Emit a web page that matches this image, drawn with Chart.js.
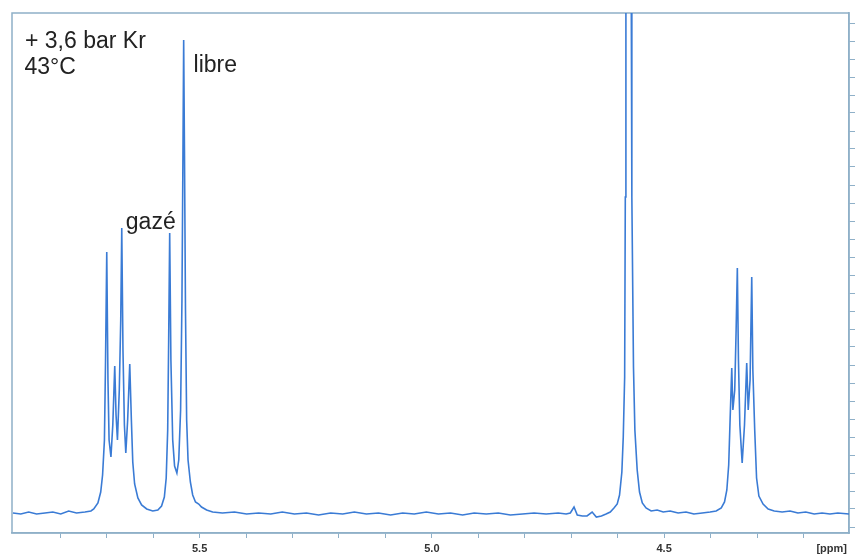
<!DOCTYPE html>
<html>
<head>
<meta charset="utf-8">
<script src="https://cdn.jsdelivr.net/npm/chart.js@4/dist/chart.umd.min.js"></script>
<style>
  html, body { margin: 0; padding: 0; background: #ffffff; overflow: hidden; }
  #wrap { width: 862px; height: 554px; position: relative; }
</style>
</head>
<body>
<div id="wrap"><canvas id="c"></canvas></div>
<script>
// Chemical shift (ppm) of each read-off point of the spectrum
const ppm = [
  5.902, 5.885, 5.868, 5.851, 5.833, 5.816, 5.799, 5.782, 5.765, 5.747,
  5.734, 5.728, 5.719, 5.713, 5.709, 5.705, 5.7026, 5.7000, 5.6974, 5.695,
  5.691, 5.687, 5.6828, 5.680, 5.677, 5.673, 5.6699, 5.6677, 5.6651, 5.662,
  5.659, 5.655, 5.6505, 5.647, 5.644, 5.640, 5.633, 5.625, 5.614, 5.601,
  5.590, 5.582, 5.576, 5.572, 5.5688, 5.5667, 5.5645, 5.5619, 5.558, 5.554,
  5.549, 5.545, 5.541, 5.5381, 5.5359, 5.5344, 5.5327, 5.5305, 5.528, 5.525,
  5.520, 5.515, 5.509, 5.502, 5.496, 5.485, 5.472, 5.451, 5.425, 5.399,
  5.373, 5.347, 5.322, 5.296, 5.270, 5.244, 5.218, 5.192, 5.167, 5.141,
  5.115, 5.089, 5.063, 5.038, 5.012, 4.986, 4.960, 4.934, 4.909, 4.883,
  4.857, 4.831, 4.805, 4.780, 4.754, 4.728, 4.711, 4.702, 4.694, 4.687,
  4.676, 4.666, 4.655, 4.646, 4.635, 4.625, 4.616, 4.608, 4.601, 4.596,
  4.591, 4.588, 4.585, 4.5836, 4.5823, 4.5763, 4.5712, 4.5695, 4.566, 4.563,
  4.558, 4.553, 4.547, 4.539, 4.528, 4.515, 4.502, 4.487, 4.470, 4.453,
  4.436, 4.418, 4.401, 4.388, 4.377, 4.370, 4.365, 4.361, 4.358, 4.3544,
  4.352, 4.348, 4.345, 4.3424, 4.340, 4.337, 4.332, 4.327, 4.3222, 4.319,
  4.315, 4.3114, 4.309, 4.305, 4.301, 4.296, 4.287, 4.276, 4.263, 4.246,
  4.229, 4.212, 4.195, 4.177, 4.160, 4.143, 4.126, 4.102
];
// Signal intensity (arbitrary units) at each point above
const intensity = [
  14, 13, 15, 13, 14, 15, 13, 16, 14, 15,
  16, 18, 24, 35, 52, 87, 167, 275, 147, 87,
  70, 102, 161, 112, 87, 137, 207, 299, 177, 102,
  74, 107, 163, 107, 65, 43, 29, 22, 18, 16,
  17, 21, 30, 49, 97, 187, 294, 167, 87, 61,
  54, 67, 117, 227, 377, 487, 377, 217, 107, 67,
  45, 32, 25, 23, 20, 17, 15, 14, 15, 13,
  14, 13, 15, 13, 14, 12, 14, 13, 15, 13,
  14, 12, 14, 13, 15, 13, 14, 12, 14, 13,
  14, 12, 13, 14, 13, 14, 13, 14, 20, 12,
  11, 11, 15, 10, 11, 13, 15, 19, 23, 32,
  55, 90, 150, 330, 600, 930, 600, 330, 160, 97,
  57, 35, 24, 19, 16, 17, 15, 16, 14, 15,
  13, 14, 15, 16, 19, 25, 37, 62, 107, 159,
  117, 137, 197, 259, 167, 102, 64, 102, 164, 117,
  147, 250, 157, 97, 49, 31, 23, 18, 16, 15,
  16, 14, 15, 13, 14, 13, 14, 13
];
// Axis ticks
const xTickValues = [4.2, 4.3, 4.4, 4.5, 4.6, 4.7, 4.8, 4.9, 5.0, 5.1, 5.2, 5.3, 5.4, 5.5, 5.6, 5.7, 5.8];
const xTickLabels = { '4.5': '4.5', '5.0': '5.0', '5.5': '5.5' };
const yTickValues = [0, 18, 36, 54, 72, 90, 108, 126, 144, 162, 180, 198, 216, 234, 252,
  270, 288, 306, 324, 342, 360, 378, 396, 414, 432, 450, 468, 486, 504];
const xUnitLabel = '[ppm]';
// Text annotations: [text, ppm, intensity]
const annotations = [
  ['+ 3,6 bar Kr', 5.876, 479],
  ['43\u00B0C', 5.877, 453],
  ['libre', 5.513, 455],
  ['gaz\u00E9', 5.659, 298]
];

const frameColor = '#8fb0c8';
const lineColor = '#3a7bd5';

const points = ppm.map((p, i) => ({ x: p, y: intensity[i] }));

const framePlugin = {
  id: 'frame',
  beforeDatasetsDraw(chart) {
    const { ctx, chartArea: a } = chart;
    ctx.save();
    ctx.strokeStyle = frameColor;
    ctx.lineWidth = 1.5;
    ctx.strokeRect(a.left, a.top, a.right - a.left, a.bottom - a.top);
    ctx.restore();
  },
  afterDraw(chart) {
    const { ctx, chartArea: a, scales } = chart;
    ctx.save();
    ctx.fillStyle = '#222222';
    ctx.font = '23px "Liberation Sans", Arial, sans-serif';
    ctx.textAlign = 'left';
    ctx.textBaseline = 'alphabetic';
    annotations.forEach(([t, px, py]) => {
      ctx.fillText(t, scales.x.getPixelForValue(px), scales.y.getPixelForValue(py));
    });
    ctx.fillStyle = '#333333';
    ctx.font = 'bold 11px "Liberation Sans", Arial, sans-serif';
    ctx.textAlign = 'right';
    ctx.textBaseline = 'middle';
    ctx.fillText(xUnitLabel, a.right - 2, a.bottom + 15.5);
    ctx.restore();
  }
};

new Chart(document.getElementById('c'), {
  type: 'line',
  data: {
    datasets: [{
      data: points,
      borderColor: lineColor,
      borderWidth: 1.6,
      pointRadius: 0,
      tension: 0,
      fill: false
    }]
  },
  options: {
    responsive: true,
    maintainAspectRatio: false,
    animation: false,
    layout: { padding: { left: 12, top: 13, right: 7, bottom: -5 } },
    plugins: { legend: { display: false }, tooltip: { enabled: false } },
    scales: {
      x: {
        type: 'linear',
        reverse: true,
        min: 4.102,
        max: 5.904,
        afterBuildTicks: (s) => { s.ticks = xTickValues.map(v => ({ value: v })); },
        ticks: {
          autoSkip: false,
          maxRotation: 0,
          padding: 5,
          color: '#333333',
          font: { family: '"Liberation Sans", Arial, sans-serif', size: 11, weight: 'bold', lineHeight: 1 },
          callback: (v) => xTickLabels[Number(v).toFixed(1)] || ''
        },
        grid: { drawOnChartArea: false, drawTicks: true, tickLength: 5, color: frameColor, lineWidth: 1 },
        border: { display: true, color: frameColor, width: 1.5 }
      },
      y: {
        type: 'linear',
        position: 'right',
        min: -6,
        max: 514,
        afterBuildTicks: (s) => { s.ticks = yTickValues.map(v => ({ value: v })); },
        ticks: { display: false, autoSkip: false },
        grid: { drawOnChartArea: false, drawTicks: true, tickLength: 6, color: frameColor, lineWidth: 1 },
        border: { display: true, color: frameColor, width: 1.5 }
      }
    }
  },
  plugins: [framePlugin]
});
</script>
</body>
</html>
